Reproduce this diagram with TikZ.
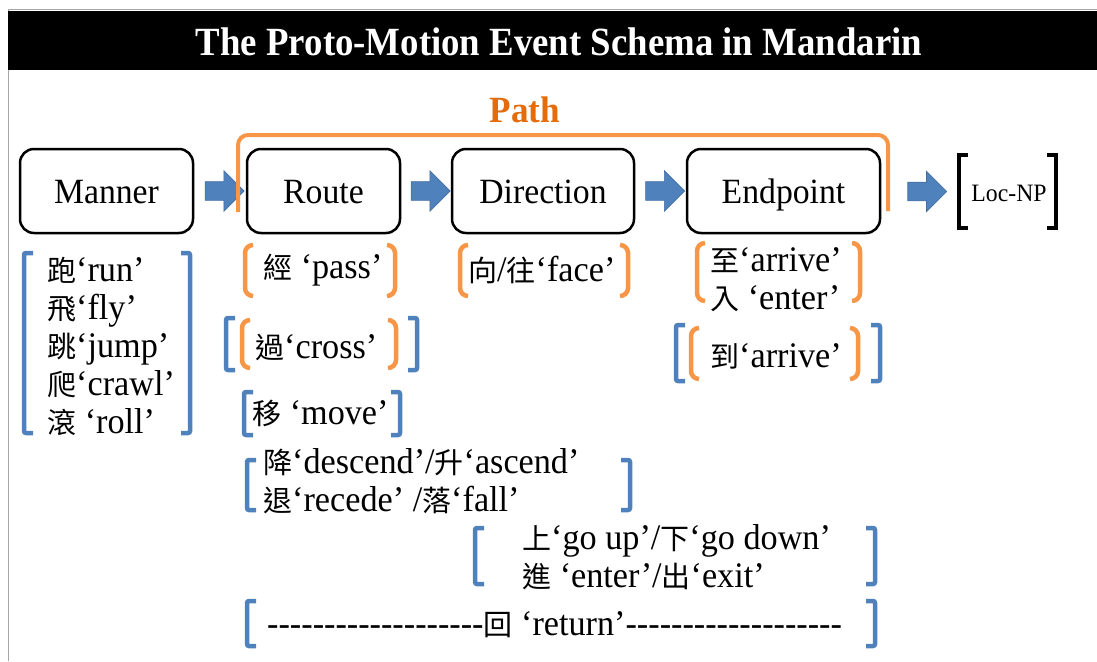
\documentclass[tikz,border=0pt]{standalone}
\usepackage{fontspec}
\setmainfont{Liberation Serif}
\newfontfamily\tnr{Liberation Serif}[FakeStretch=0.95]
\newfontfamily\titlefont{Liberation Serif}[FakeStretch=0.92]
\newfontfamily\cjk{Noto Sans CJK TC}
\newcommand\zh[1]{{\cjk\fontsize{29}{38}\selectfont #1}}
\usetikzlibrary{calc,shapes.arrows}
\definecolor{bblue}{HTML}{4F81BD}
\definecolor{porange}{HTML}{F79646}
\definecolor{dorange}{HTML}{E46C0A}

\begin{document}
\begin{tikzpicture}[x=1pt, y=-1pt,
  box/.style={draw, line width=2.5pt, rounded corners=14pt, minimum height=84pt,
    inner sep=0pt, text height=26pt, text depth=2pt, font=\tnr\fontsize{35.5}{38}\selectfont},
  blockarr/.style={single arrow, fill=bblue, draw=bblue!85!black, line width=0.6pt,
    minimum height=39pt, text height=9pt, text depth=9pt, text width=0pt,
    single arrow head extend=11pt, inner sep=0pt},
  sqbr/.style={draw=bblue, line width=4.5pt, rounded corners=2pt},
  parbr/.style={draw=porange, line width=4.5pt, rounded corners=8pt},
  txt/.style={inner sep=0pt, align=left, anchor=west, font=\tnr\fontsize{36}{38}\selectfont}]

  \useasboundingbox (0,0) rectangle (1097,661);

  % 标题栏
  \draw[gray!70, line width=1pt] (8,661) -- (8,10) -- (1097,10);
  \fill[black] (8,11) rectangle (1097,70);
  \node[text=white, font=\titlefont\bfseries\fontsize{40}{44}\selectfont] (title) at (559,42)
    {The Proto-Motion Event Schema in Mandarin};

  % ---- 上排：四个框 ----
  \node[box, minimum width=173pt] (manner) at (106.5,191) {Manner};
  \node[box, minimum width=153pt] (route) at (323.5,191) {Route};
  \node[box, minimum width=182pt] (direction) at (543,191) {Direction};
  \node[box, minimum width=193pt] (endpoint) at (783.5,191) {Endpoint};

  % Loc-NP（黑色方括号）
  \node[inner sep=0pt, font=\tnr\fontsize{25}{26}\selectfont] (locnp) at (1009,193) {Loc-NP};
  \coordinate (lbr) at (964,192);
  \draw[line width=3.5pt] (968,155) -- (959,155) -- (959,228) -- (968,228);
  \draw[line width=3.5pt] (1047,155) -- (1056,155) -- (1056,228) -- (1047,228);

  % 蓝色箭头
  \foreach \s/\t in {manner/route, route/direction, direction/endpoint}
    \node[blockarr] at ($(\s.east)!0.5!(\t.west)$) {};
  \node[blockarr] at ($(endpoint.east)!0.5!(lbr)$) {};

  % Path 括号
  \draw[porange, line width=4pt, rounded corners=10pt] (238,212) -- (238,135) -- (888,135) -- (888,211);
  \node[text=dorange, font=\tnr\bfseries\fontsize{37}{40}\selectfont] (path) at (525,110) {Path};

  % ---- 下方：词表 ----
  \node[txt] (manlist) at (47,346)
    {\zh{跑}‘run’\\ \zh{飛}‘fly’\\ \zh{跳}‘jump’\\ \zh{爬}‘crawl’\\ \zh{滾} ‘roll’};
  \node[txt] (pass) at (263,270) {\zh{經} ‘pass’};
  \node[txt] (cross) at (255,347) {\zh{過}‘cross’};
  \node[txt] (move) at (252,413) {\zh{移} ‘move’};
  \node[txt] (descend) at (263,481)
    {\zh{降}‘descend’/\zh{升}‘ascend’\\ \zh{退}‘recede’ /\zh{落}‘fall’};
  \node[txt] (face) at (468,270) {\zh{向}/\zh{往}‘face’};
  \node[txt] (arrive) at (710,280) {\zh{至}‘arrive’\\ \zh{入} ‘enter’};
  \node[txt] (arrivetwo) at (710,356) {\zh{到}‘arrive’};
  \node[txt] (goup) at (522,557)
    {\zh{上}‘go up’/\zh{下}‘go down’\\ \zh{進} ‘enter’/\zh{出}‘exit’};
  \node[txt] (return) at (267,625)
    {\foreach \i in {1,...,19}{-}\zh{回} ‘return’\foreach \i in {1,...,19}{-}};

  % 蓝色方括号：左 [
  \foreach \x/\ya/\yb in {24/253/433, 226/318/370, 244/392/435, 247/460/510,
                          475/528/584, 247/601/646, 676/325/381}
    \draw[sqbr] (\x+9,\ya) -- (\x,\ya) -- (\x,\yb) -- (\x+9,\yb);
  % 蓝色方括号：右 ]
  \foreach \x/\ya/\yb in {190/253/433, 417/318/370, 400/392/435, 630/460/510,
                          875/528/584, 875/601/646, 880/325/381}
    \draw[sqbr] (\x-9,\ya) -- (\x,\ya) -- (\x,\yb) -- (\x-9,\yb);

  % 橙色圆括号：左 (
  \foreach \x/\ya/\yb in {245/245/296, 242/320/368, 460/245/296, 697/243/301, 691/328/379}
    \draw[parbr] (\x+8,\ya) -- (\x,\ya) -- (\x,\yb) -- (\x+8,\yb);
  % 橙色圆括号：右 )
  \foreach \x/\ya/\yb in {395/245/296, 396/320/368, 628/245/296, 860/243/301, 858/328/379}
    \draw[parbr] (\x-8,\ya) -- (\x,\ya) -- (\x,\yb) -- (\x-8,\yb);

\end{tikzpicture}
\end{document}
